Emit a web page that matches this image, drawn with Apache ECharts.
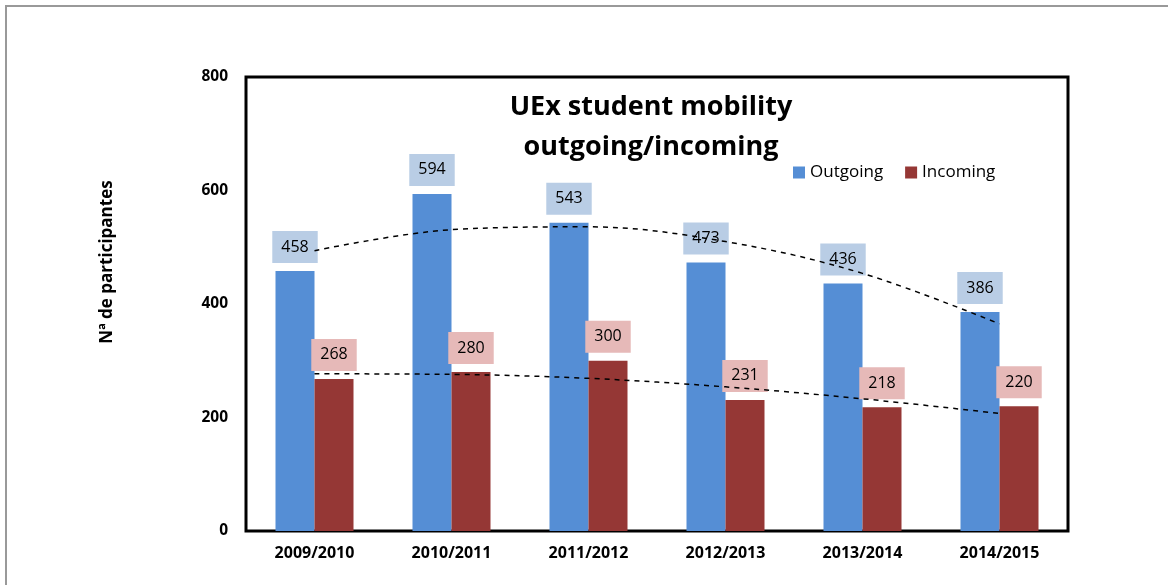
<!DOCTYPE html>
<html>
<head>
<meta charset="utf-8">
<script src="https://cdn.jsdelivr.net/npm/echarts@6/dist/echarts.min.js"></script>
<style>
  html, body { margin: 0; padding: 0; background: #fff; }
  #chart { width: 1168px; height: 585px; }
</style>
</head>
<body>
<div id="chart"></div>
<script>
const categories = ['2009/2010', '2010/2011', '2011/2012', '2012/2013', '2013/2014', '2014/2015']
const outgoing = [458, 594, 543, 473, 436, 386]
const incoming = [268, 280, 300, 231, 218, 220]
// trend curves at each category centre
const outgoingTrend = [494, 531, 536, 510, 454, 365]
const incomingTrend = [277, 276, 269, 254, 233, 207]
const yTicks = [0, 200, 400, 600, 800]

const BLUE = '#558ed5'
const RED = '#953735'
const FONT = '"Open Sans", "Noto Sans", sans-serif'

const chart = echarts.init(document.getElementById('chart'))

const barLabel = bg => ({
  show: true,
  position: 'top',
  distance: 8,
  backgroundColor: bg,
  padding: [6, 9],
  fontSize: 16,
  lineHeight: 20,
  color: '#000',
  fontFamily: FONT
})

const trendLine = (name, data) => ({
  name,
  type: 'line',
  data,
  smooth: 0.35,
  symbol: 'none',
  z: 10,
  silent: true,
  lineStyle: { color: '#000', width: 1.5, type: [5, 5] }
})

chart.setOption({
  animation: false,
  textStyle: { fontFamily: FONT },
  title: {
    text: 'UEx student mobility\noutgoing/incoming',
    left: 646,
    top: 82,
    textAlign: 'center',
    textStyle: { fontSize: 27, fontWeight: 'bold', color: '#000', lineHeight: 40, fontFamily: FONT }
  },
  legend: {
    data: ['Outgoing', 'Incoming'],
    left: 788,
    top: 159,
    itemWidth: 12,
    itemHeight: 12,
    itemGap: 22,
    icon: 'rect',
    textStyle: { fontSize: 17, color: '#000', padding: [0, 0, 0, 0] }
  },
  grid: {
    left: 246, right: 100, top: 77, bottom: 54,
    show: true, borderColor: '#000', borderWidth: 3
  },
  xAxis: {
    type: 'category',
    data: categories,
    axisLine: { show: false },
    axisTick: { show: false },
    axisLabel: { fontSize: 16, fontWeight: 'bold', color: '#000', margin: 14 }
  },
  yAxis: {
    type: 'value',
    min: yTicks[0],
    max: yTicks[yTicks.length - 1],
    interval: 200,
    splitLine: { show: false },
    axisLine: { show: false },
    axisTick: { show: false },
    axisLabel: { fontSize: 15.5, fontWeight: 'bold', color: '#000', margin: 18 }
  },
  graphic: [
    {
      type: 'rect',
      shape: { x: 6, y: 6, width: 1300, height: 700 },
      style: { fill: 'none', stroke: '#999', lineWidth: 2 },
      silent: true
    },
    {
      type: 'text',
      x: 107,
      y: 262,
      rotation: Math.PI / 2,
      style: {
        text: 'Nª de participantes',
        fontSize: 17,
        fontWeight: 'bold',
        fill: '#000',
        fontFamily: FONT,
        align: 'center',
        verticalAlign: 'middle'
      }
    }
  ],
  series: [
    {
      name: 'Outgoing',
      type: 'bar',
      data: outgoing,
      barWidth: 39,
      barGap: '0%',
      itemStyle: { color: BLUE },
      label: barLabel('#b9cde5')
    },
    {
      name: 'Incoming',
      type: 'bar',
      data: incoming,
      barWidth: 39,
      barGap: '0%',
      itemStyle: { color: RED },
      label: barLabel('#e6b9b8')
    },
    trendLine('Outgoing trend', outgoingTrend),
    trendLine('Incoming trend', incomingTrend)
  ]
})
</script>
</body>
</html>
